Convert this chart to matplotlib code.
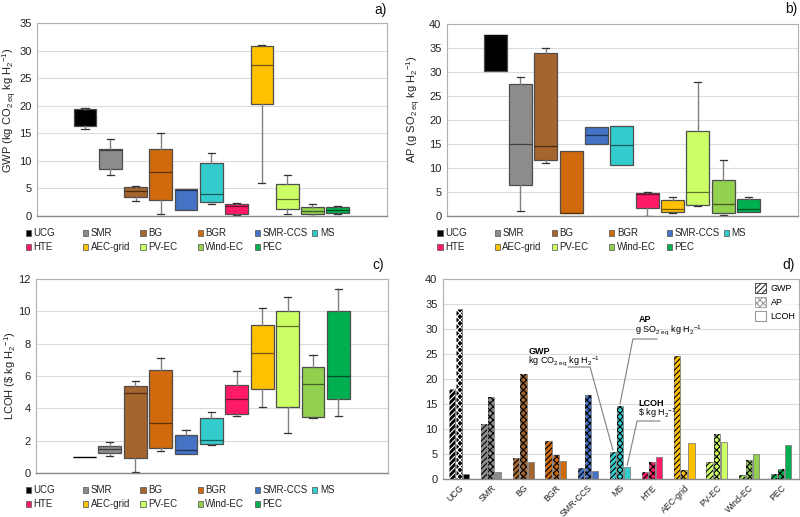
import matplotlib
matplotlib.use('Agg')
import matplotlib.pyplot as plt
from matplotlib.patches import Rectangle, Patch
from matplotlib.colors import to_rgb
import numpy as np

plt.rcParams['font.family'] = ['Liberation Sans', 'DejaVu Sans']
plt.rcParams['mathtext.fontset'] = 'custom'
plt.rcParams['mathtext.rm'] = 'Liberation Sans'
plt.rcParams['mathtext.it'] = 'Liberation Sans:italic'
plt.rcParams['mathtext.bf'] = 'Liberation Sans:bold'
plt.rcParams['hatch.linewidth'] = 0.8

categories = ['UCG', 'SMR', 'BG', 'BGR', 'SMR-CCS', 'MS', 'HTE', 'AEC-grid', 'PV-EC', 'Wind-EC', 'PEC']
colors = ['#000000', '#8c8c8c', '#a5652e', '#d06a0c', '#4472c4', '#33cccc',
          '#ff1a66', '#ffc000', '#ccff66', '#92d050', '#00b050']

# GWP (kg CO2eq / kg H2) box statistics
gwp_whislo = [15.8, 7.5, 2.8, 0.3, 1.0, 2.1, 0.1, 5.9, 0.4, 0.0, 0.4]
gwp_q1     = [16.4, 8.5, 3.4, 2.9, 1.0, 2.6, 0.3, 20.3, 1.2, 0.35, 0.5]
gwp_med    = [18.0, 12.0, 4.5, 8.0, 4.8, 4.0, 1.9, 27.4, 3.0, 0.9, 1.0]
gwp_q3     = [19.4, 12.1, 5.2, 12.1, 4.9, 9.7, 2.2, 30.8, 5.8, 1.6, 1.7]
gwp_whishi = [19.6, 14.0, 5.5, 15.0, 4.9, 11.5, 2.4, 31.0, 7.5, 2.2, 1.9]

# AP (g SO2eq / kg H2) box statistics
ap_whislo = [30.3, 1.0, 11.1, 0.6, 15.0, 10.7, 0.1, 0.7, 2.0, 0.3, 0.9]
ap_q1     = [30.3, 6.5, 11.7, 0.6, 15.0, 10.7, 1.6, 0.8, 2.2, 0.7, 0.9]
ap_med    = [37.7, 15.0, 14.5, 0.7, 16.8, 14.7, 4.6, 1.4, 5.0, 2.5, 1.5]
ap_q3     = [37.8, 27.4, 34.0, 13.6, 18.6, 18.7, 4.8, 3.3, 17.8, 7.4, 3.6]
ap_whishi = [37.8, 29.0, 35.0, 13.6, 18.6, 18.7, 5.0, 4.0, 28.0, 11.7, 4.0]

# LCOH ($ / kg H2) box statistics
lc_whislo = [1.0, 1.05, 0.05, 1.35, 1.2, 1.75, 3.55, 4.1, 2.5, 3.4, 3.5]
lc_q1     = [1.0, 1.25, 0.95, 1.55, 1.2, 1.8, 3.65, 5.2, 4.1, 3.45, 4.55]
lc_med    = [1.0, 1.5, 4.95, 3.1, 1.4, 2.05, 4.6, 7.4, 9.1, 5.5, 6.0]
lc_q3     = [1.0, 1.7, 5.4, 6.35, 2.35, 3.4, 5.45, 9.15, 10.0, 6.55, 10.0]
lc_whishi = [1.0, 1.9, 5.7, 7.1, 2.65, 3.8, 6.3, 10.2, 10.9, 7.3, 11.4]

# panel d bar values
bar_gwp  = [18.0, 11.0, 4.3, 7.6, 2.3, 5.5, 1.4, 24.6, 3.4, 0.9, 1.0]
bar_ap   = [34.1, 16.5, 21.1, 4.9, 16.8, 14.7, 3.5, 1.8, 9.0, 3.8, 2.0]
bar_lcoh = [1.0, 1.5, 3.5, 3.7, 1.6, 2.4, 4.5, 7.2, 7.4, 5.1, 6.8]

W, H = 800, 517
fig = plt.figure(figsize=(W / 100, H / 100), dpi=100)

def frac(l, t, r, b):
    return [l / W, 1 - b / H, (r - l) / W, (b - t) / H]

ax_a = fig.add_axes(frac(37, 23, 387, 216))
ax_b = fig.add_axes(frac(447, 24, 798, 216))
ax_c = fig.add_axes(frac(36, 279, 388, 473))
ax_d = fig.add_axes(frac(443, 279, 799, 479))

TICK_FS = 8
GRID_C = '#dcdcdc'

def darker(c, f=0.45):
    r, g, b = to_rgb(c)
    return (r * f, g * f, b * f)

def style_axes(ax):
    for s in ['left', 'top', 'right']:
        ax.spines[s].set_color('#b0b0b0')
        ax.spines[s].set_linewidth(0.8)
    ax.spines['bottom'].set_color('#8a8a8a')
    ax.spines['bottom'].set_linewidth(1.0)
    ax.yaxis.grid(True, color=GRID_C, lw=0.8)
    ax.set_axisbelow(True)
    ax.tick_params(axis='y', length=0, labelsize=TICK_FS, pad=4, labelcolor='#222222')

def boxpanel(ax, wlo, q1, med, q3, whi, ymax, ystep, ylabel, lab_x, lab_y):
    stats = []
    for i in range(len(categories)):
        stats.append(dict(whislo=wlo[i], q1=q1[i], med=med[i], q3=q3[i], whishi=whi[i], label=categories[i]))
    res = ax.bxp(stats, positions=np.arange(len(categories)), widths=0.9, patch_artist=True,
                 showfliers=False, manage_ticks=False, capwidths=0.28,
                 boxprops=dict(edgecolor='#4d4d4d', linewidth=0.9),
                 whiskerprops=dict(color='#808080', linewidth=1.0),
                 capprops=dict(color='#333333', linewidth=0.9),
                 medianprops=dict(color='#3a3a3a', linewidth=0.9))
    for i, box in enumerate(res['boxes']):
        box.set_facecolor(colors[i])
        res['medians'][i].set_color(darker(colors[i]))
        if wlo[i] >= q1[i]:
            res['caps'][2 * i].set_visible(False)
        if whi[i] <= q3[i]:
            res['caps'][2 * i + 1].set_visible(False)
    ax.set_xlim(-1.9, 11.95)
    ax.set_ylim(0, ymax)
    ax.set_yticks(np.arange(0, ymax + 0.01, ystep))
    ax.set_xticks([])
    style_axes(ax)
    ax.set_ylabel(ylabel, fontsize=8, color='#222222')
    ax.yaxis.set_label_coords(lab_x, lab_y)

boxpanel(ax_a, gwp_whislo, gwp_q1, gwp_med, gwp_q3, gwp_whishi, 35, 5,
         r'GWP (kg CO$_{2\ \mathrm{eq}}$ kg H$_2$$^{\mathrm{-1}}$)', -0.052, 0.55)
boxpanel(ax_b, ap_whislo, ap_q1, ap_med, ap_q3, ap_whishi, 40, 5,
         r'AP (g SO$_{2\ \mathrm{eq}}$ kg H$_2$$^{\mathrm{-1}}$)', -0.068, 0.557)
boxpanel(ax_c, lc_whislo, lc_q1, lc_med, lc_q3, lc_whishi, 12, 2,
         r'LCOH (\$ kg H$_2$$^{\mathrm{-1}}$)', -0.052, 0.5)

# custom legends (two rows, six columns) below box panels
def box_legend(x0, rows):
    for i, (name, c) in enumerate(zip(categories, colors)):
        r, col = divmod(i, 6)
        xc = x0 + col * 57.3
        yc = rows[r]
        fig.patches.append(Rectangle(((xc - 2.6) / W, 1 - (yc + 2.6) / H), 5.2 / W, 5.2 / H,
                                     transform=fig.transFigure, facecolor=c,
                                     edgecolor='#505050', lw=0.5))
        fig.text((xc + 5.0) / W, 1 - yc / H, name, fontsize=7, va='center', ha='left', color='#222222')

box_legend(28.3, [233, 247])
box_legend(440, [233, 247])
box_legend(28.3, [490, 504])

# panel d grouped bars
x = np.arange(len(categories))
off = 0.222
bw = 0.19
hatch_cols = ['white'] + ['black'] * (len(categories) - 1)
for i in range(len(categories)):
    ax_d.bar(x[i] - off, bar_gwp[i], bw, color=colors[i], edgecolor='#808080', lw=0.6, zorder=2)
    ax_d.bar(x[i] - off, bar_gwp[i], bw, facecolor='none', edgecolor=hatch_cols[i], hatch='//////', lw=0, zorder=3)
    ax_d.bar(x[i], bar_ap[i], bw, color=colors[i], edgecolor='#808080', lw=0.6, zorder=2)
    ax_d.bar(x[i], bar_ap[i], bw, facecolor='none', edgecolor=hatch_cols[i], hatch='xxxxx', lw=0, zorder=3)
    ax_d.bar(x[i] + off, bar_lcoh[i], bw, color=colors[i], edgecolor='#808080', lw=0.6, zorder=2)

ax_d.set_xlim(-0.5, 10.56)
ax_d.set_ylim(0, 40)
ax_d.set_yticks(np.arange(0, 41, 5))
ax_d.set_xticks(x)
ax_d.set_xticklabels(categories, rotation=45, ha='right', va='top', rotation_mode='anchor',
                     fontsize=6.3, color='#222222')
style_axes(ax_d)
ax_d.tick_params(axis='x', length=0, pad=3)

handles = [Patch(facecolor='white', edgecolor='#333333', hatch='//////', lw=0.6),
           Patch(facecolor='white', edgecolor='#9a9a9a', hatch='xxxxx', lw=0.6),
           Patch(facecolor='white', edgecolor='#9a9a9a', lw=0.8)]
ax_d.legend(handles, ['GWP', 'AP', 'LCOH'], loc='upper right', bbox_to_anchor=(0.995, 0.99),
            frameon=True, facecolor='white', edgecolor='none', fontsize=6.5,
            handlelength=1.2, handleheight=1.3, labelspacing=0.45, handletextpad=0.5,
            borderaxespad=0, borderpad=0.2)

# annotation leaders pointing to MS bars
ms = categories.index('MS')
ann_c = '#808080'
ax_d.plot([3.39, 4.07, x[ms] - off], [22.4, 22.4, bar_gwp[ms] + 0.3], color=ann_c, lw=0.8, zorder=4)
ax_d.plot([6.15, 5.4, x[ms]], [28.0, 28.0, bar_ap[ms] + 0.3], color=ann_c, lw=0.8, zorder=4)
ax_d.plot([6.24, 5.53, x[ms] + off], [11.6, 11.6, bar_lcoh[ms] + 0.3], color=ann_c, lw=0.8, zorder=4)

ax_d.text(2.15, 25.6, 'GWP', fontsize=6.5, fontweight='bold', va='center', ha='left')
ax_d.text(2.15, 23.6, r'kg CO$_{2\ \mathrm{eq}}$ kg H$_2$$^{\mathrm{-1}}$', fontsize=6.5, va='center', ha='left')
ax_d.text(5.58, 31.8, 'AP', fontsize=6.5, fontweight='bold', va='center', ha='left')
ax_d.text(5.45, 29.8, r'g SO$_{2\ \mathrm{eq}}$ kg H$_2$$^{\mathrm{-1}}$', fontsize=6.5, va='center', ha='left')
ax_d.text(5.56, 15.2, 'LCOH', fontsize=6.5, fontweight='bold', va='center', ha='left')
ax_d.text(5.56, 13.2, r'\$ kg H$_2$$^{\mathrm{-1}}$', fontsize=6.5, va='center', ha='left')

# panel labels
for lbl, xp, yp in [('a)', 387, 10), ('b)', 797, 9), ('c)', 384, 265), ('d)', 795, 265)]:
    fig.text(xp / W, 1 - yp / H, lbl, fontsize=10, ha='right', va='center', color='#111111')

fig.savefig('out.png', dpi=100)
